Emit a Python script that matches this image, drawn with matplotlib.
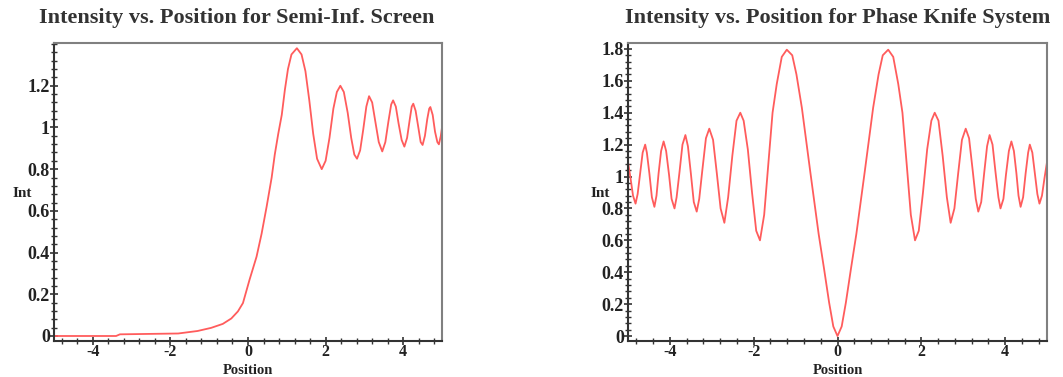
"""Fresnel diffraction intensity: semi-infinite screen vs. phase knife."""

import matplotlib

matplotlib.use("Agg")
import matplotlib.pyplot as plt
import numpy as np
from matplotlib.ticker import MultipleLocator

plt.rcParams["axes.unicode_minus"] = False

# semi-infinite screen, values
screen_x = [-5.0, -3.4, -3.3, -1.8, -1.3, -0.95, -0.65, -0.43, -0.26, -0.13,
            0.04, 0.22, 0.35, 0.48, 0.61, 0.69, 0.78, 0.87, 0.95, 1.03,
            1.12, 1.26, 1.38, 1.48, 1.58, 1.68, 1.78, 1.90, 2.00, 2.10,
            2.20, 2.29, 2.38, 2.47, 2.57, 2.66, 2.74, 2.81, 2.89, 2.97,
            3.05, 3.12, 3.20, 3.28, 3.37, 3.46, 3.54, 3.62, 3.69, 3.74,
            3.81, 3.88, 3.96, 4.03, 4.10, 4.17, 4.22, 4.26, 4.32, 4.39,
            4.45, 4.50, 4.56, 4.62, 4.67, 4.70, 4.76, 4.82, 4.88, 4.92,
            4.97, 5.0]
screen_y = [0.0, 0.0, 0.008, 0.012, 0.024, 0.039, 0.058, 0.084, 0.118, 0.158,
            0.27, 0.38, 0.49, 0.62, 0.76, 0.87, 0.97, 1.06, 1.18, 1.28,
            1.35, 1.38, 1.35, 1.27, 1.13, 0.97, 0.85, 0.80, 0.84, 0.95,
            1.09, 1.17, 1.20, 1.17, 1.07, 0.95, 0.87, 0.85, 0.89, 0.99,
            1.10, 1.15, 1.12, 1.03, 0.93, 0.885, 0.93, 1.03, 1.11, 1.13,
            1.10, 1.02, 0.94, 0.908, 0.95, 1.04, 1.10, 1.114, 1.08, 1.00,
            0.93, 0.916, 0.96, 1.04, 1.09, 1.098, 1.06, 0.98, 0.93, 0.919,
            0.96, 1.0]

# phase knife, right half (the curve is symmetric about 0)
knife_x_half = [0.0, 0.10, 0.20, 0.32, 0.45, 0.65, 0.85, 0.98, 1.08, 1.21,
                1.33, 1.45, 1.55, 1.66, 1.75, 1.85, 1.94, 2.04, 2.14, 2.24,
                2.32, 2.41, 2.51, 2.61, 2.70, 2.79, 2.88, 2.97, 3.06, 3.14,
                3.23, 3.30, 3.36, 3.43, 3.50, 3.57, 3.63, 3.70, 3.77, 3.84,
                3.89, 3.96, 4.02, 4.09, 4.15, 4.21, 4.27, 4.32, 4.37, 4.43,
                4.49, 4.55, 4.59, 4.65, 4.71, 4.77, 4.82, 4.88, 4.94, 5.0]
knife_y_half = [0.0, 0.06, 0.21, 0.42, 0.64, 1.03, 1.43, 1.64, 1.76, 1.795,
                1.75, 1.58, 1.40, 1.05, 0.76, 0.60, 0.66, 0.90, 1.17, 1.35,
                1.40, 1.35, 1.13, 0.87, 0.71, 0.80, 1.02, 1.23, 1.30, 1.24,
                1.03, 0.86, 0.78, 0.84, 1.02, 1.19, 1.26, 1.20, 1.03, 0.87,
                0.80, 0.86, 1.01, 1.16, 1.22, 1.16, 1.02, 0.88, 0.81, 0.87,
                1.02, 1.15, 1.20, 1.15, 1.02, 0.89, 0.83, 0.88, 0.99, 1.09]

screen_yticks = [0, 0.2, 0.4, 0.6, 0.8, 1, 1.2]
knife_yticks = [0, 0.2, 0.4, 0.6, 0.8, 1, 1.2, 1.4, 1.6, 1.8]
xticks = [-4, -2, 0, 2, 4]

knife_x = np.concatenate([-np.array(knife_x_half[:0:-1]), knife_x_half])
knife_y = np.concatenate([np.array(knife_y_half[:0:-1]), knife_y_half])

LINE = "#ff5c5c"
SERIF = ["Liberation Serif", "DejaVu Serif"]


def style_axes(ax, ylim, yticks):
    ax.set_xlim(-5, 5)
    ax.set_ylim(*ylim)
    ax.set_xticks(xticks)
    ax.set_xticklabels([f"{t:g}" for t in xticks])
    ax.set_yticks(yticks)
    ax.set_yticklabels([f"{t:g}" for t in yticks])
    ax.xaxis.set_minor_locator(MultipleLocator(0.4))
    ax.yaxis.set_minor_locator(MultipleLocator(0.04))
    ax.tick_params(which="both", direction="inout", color="#333333",
                   labelcolor="#222222")
    ax.tick_params(axis="y", pad=0, labelsize=13)
    ax.tick_params(axis="x", pad=-1, labelsize=11.5)
    ax.tick_params(which="major", length=6, width=1.2)
    ax.tick_params(which="minor", length=4, width=1.0)
    for lab in ax.get_xticklabels() + ax.get_yticklabels():
        lab.set_family(SERIF)
        lab.set_fontweight("bold")
    for side in ("left", "bottom"):
        ax.spines[side].set_color("#333333")
        ax.spines[side].set_linewidth(1.5)
    for side in ("top", "right"):
        ax.spines[side].set_color("#808080")
        ax.spines[side].set_linewidth(1.5)


fig = plt.figure(figsize=(10.63, 3.77), dpi=100)

ax1 = fig.add_axes([54 / 1063, 36 / 377, 388 / 1063, 298 / 377])
ax1.plot(screen_x, screen_y, color=LINE, lw=1.3)
style_axes(ax1, (-0.024, 1.405), screen_yticks)

ax2 = fig.add_axes([628 / 1063, 36 / 377, 419 / 1063, 298 / 377])
ax2.plot(knife_x, knife_y, color=LINE, lw=1.3)
style_axes(ax2, (-0.031, 1.837), knife_yticks)

title_kw = dict(family=SERIF, fontweight="bold", fontsize=16, color="#333333",
                ha="center", va="center")
fig.text(237 / 1063, 1 - 18 / 377, "Intensity vs. Position for Semi-Inf. Screen", **title_kw)
fig.text(838 / 1063, 1 - 18 / 377, "Intensity vs. Position for Phase Knife System", **title_kw)

lab_kw = dict(family=SERIF, fontweight="bold", color="#222222", ha="center")
fig.text(22 / 1063, 1 - 193 / 377, "Int", fontsize=11, va="center", **lab_kw)
fig.text(600 / 1063, 1 - 193 / 377, "Int", fontsize=11, va="center", **lab_kw)
fig.text(248 / 1063, 1 - 376.5 / 377, "Position", fontsize=10.5, va="bottom", **lab_kw)
fig.text(838 / 1063, 1 - 376.5 / 377, "Position", fontsize=10.5, va="bottom", **lab_kw)

fig.savefig("out.png", dpi=100)
